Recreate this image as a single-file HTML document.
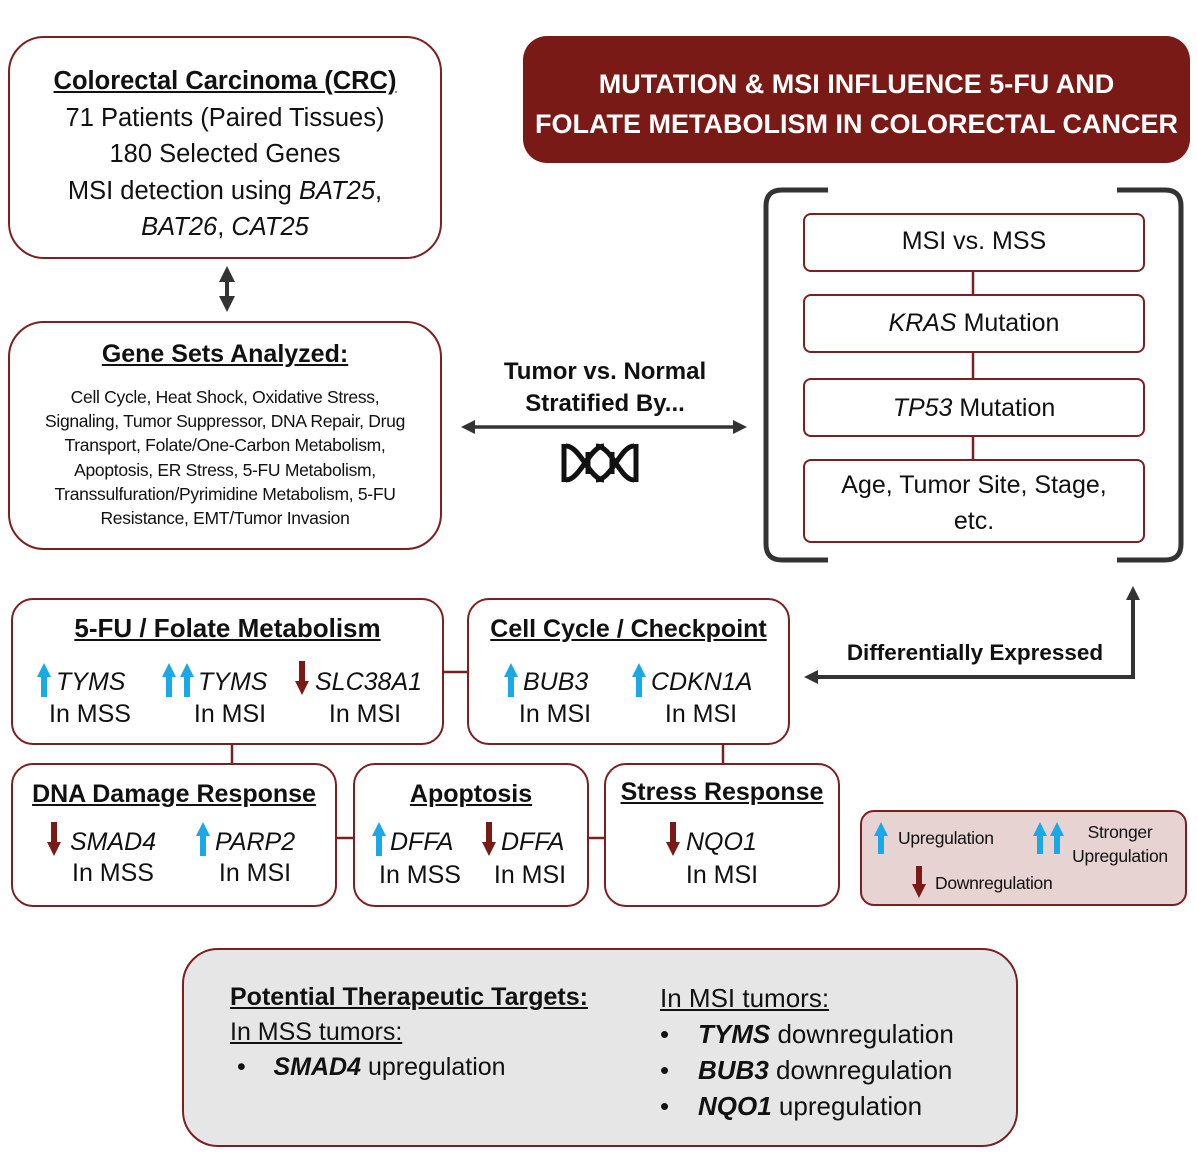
<!DOCTYPE html>
<html><head><meta charset="utf-8"><style>
body{margin:0;width:1197px;height:1165px;background:#fff;position:relative;font-family:"Liberation Sans",sans-serif;color:#111;overflow:hidden}
.b{position:absolute;border:2.5px solid #7b2020;box-sizing:border-box;background:#fff}
.t{position:absolute;white-space:nowrap;text-align:center}
.u{font-weight:bold;text-decoration:underline}
svg{position:absolute;left:0;top:0}
</style></head><body>
<svg width="1197" height="1165">
<defs>
<marker id="ah" markerWidth="4" markerHeight="4" refX="2" refY="2" orient="auto-start-reverse" markerUnits="strokeWidth"><path d="M0,0L4,2L0,4z" fill="#333"/></marker>
</defs>
<g stroke="#7b2020" stroke-width="2.5">
<line x1="973" y1="272" x2="973" y2="294"/><line x1="973" y1="353" x2="973" y2="378"/><line x1="973" y1="437" x2="973" y2="459"/>
<line x1="444" y1="672" x2="467" y2="672"/>
<line x1="232" y1="745" x2="232" y2="763"/><line x1="723" y1="745" x2="723" y2="763"/>
<line x1="337" y1="838" x2="353" y2="838"/><line x1="589" y1="838" x2="604" y2="838"/>
</g>
<g stroke="#333" fill="none">
<line x1="227" y1="274" x2="227" y2="304" marker-start="url(#ah)" marker-end="url(#ah)" stroke-width="4"/>
<line x1="468" y1="427" x2="740" y2="427" marker-start="url(#ah)" marker-end="url(#ah)" stroke-width="3.5"/>
<path d="M828,190 H782 Q766,190 766,206 V544 Q766,560 782,560 H828" stroke-width="5"/>
<path d="M1117,190 H1165 Q1181,190 1181,206 V544 Q1181,560 1165,560 H1117" stroke-width="5"/>
<path d="M816,677 H1133 V598" stroke-width="4"/>
</g>
<path d="M804,677 L818,670 L818,684z" fill="#333"/>
<path d="M1133,586 L1126,600 L1140,600z" fill="#333"/>
<g stroke="#111" stroke-width="5" fill="none">
<path d="M566,446 C580,446 590,480 604,480 M566,480 C580,480 590,446 604,446"/>
<path d="M596,446 C612,446 620,480 634,480 M596,480 C612,480 620,446 634,446"/>
<line x1="564" y1="444" x2="564" y2="482"/><line x1="636" y1="444" x2="636" y2="482"/>
<line x1="588" y1="452" x2="588" y2="474"/><line x1="612" y1="452" x2="612" y2="474"/>
</g>
</svg>

<div class="b" style="left:8px;top:36px;width:434px;height:223px;border-radius:36px"></div>
<div class="t" style="left:8px;width:434px;top:63px;font-size:25.5px;line-height:36.5px">
<span class="u">Colorectal Carcinoma (CRC)</span><br>71 Patients (Paired Tissues)<br>180 Selected Genes<br>MSI detection using <i>BAT25</i>,<br><i>BAT26</i>, <i>CAT25</i></div>

<div style="position:absolute;left:523px;top:36px;width:667px;height:127px;background:#7a1a16;border-radius:24px"></div>
<div class="t" style="left:523px;width:667px;top:64px;color:#fff;font-weight:bold;font-size:27px;line-height:40px">MUTATION &amp; MSI INFLUENCE 5-FU AND<br>FOLATE METABOLISM IN COLORECTAL CANCER</div>

<div class="b" style="left:8px;top:321px;width:434px;height:229px;border-radius:36px"></div>
<div class="t" style="left:8px;width:434px;top:340px;font-size:25px"><span class="u">Gene Sets Analyzed:</span></div>
<div class="t" style="left:8px;width:434px;top:385px;font-size:17.5px;line-height:24.2px;letter-spacing:-0.3px">Cell Cycle, Heat Shock, Oxidative Stress,<br>Signaling, Tumor Suppressor, DNA Repair, Drug<br>Transport, Folate/One-Carbon Metabolism,<br>Apoptosis, ER Stress, 5-FU Metabolism,<br>Transsulfuration/Pyrimidine Metabolism, 5-FU<br>Resistance, EMT/Tumor Invasion</div>

<div class="t" style="left:455px;width:300px;top:356px;font-size:24px;font-weight:bold;line-height:32px">Tumor vs. Normal<br>Stratified By...</div>

<div class="b" style="left:803px;top:213px;width:342px;height:59px;border-radius:8px"></div>
<div class="t" style="left:803px;width:342px;top:227px;font-size:25px">MSI vs. MSS</div>
<div class="b" style="left:803px;top:294px;width:342px;height:59px;border-radius:8px"></div>
<div class="t" style="left:803px;width:342px;top:309px;font-size:25px"><i>KRAS</i> Mutation</div>
<div class="b" style="left:803px;top:378px;width:342px;height:59px;border-radius:8px"></div>
<div class="t" style="left:803px;width:342px;top:394px;font-size:25px"><i>TP53</i> Mutation</div>
<div class="b" style="left:803px;top:459px;width:342px;height:84px;border-radius:8px"></div>
<div class="t" style="left:803px;width:342px;top:467px;font-size:25px;line-height:36px">Age, Tumor Site, Stage,<br>etc.</div>

<div class="t" style="left:815px;width:320px;top:640px;font-size:22.5px;font-weight:bold">Differentially Expressed</div>

<div class="b" style="left:11px;top:598px;width:433px;height:147px;border-radius:22px"></div>
<div class="t" style="left:11px;width:433px;top:613px;font-size:26px"><span class="u">5-FU / Folate Metabolism</span></div>
<div class="b" style="left:467px;top:598px;width:323px;height:147px;border-radius:22px"></div>
<div class="t" style="left:467px;width:323px;top:615px;font-size:25px"><span class="u">Cell Cycle / Checkpoint</span></div>
<div class="b" style="left:11px;top:763px;width:326px;height:144px;border-radius:22px"></div>
<div class="t" style="left:11px;width:326px;top:780px;font-size:25px"><span class="u">DNA Damage Response</span></div>
<div class="b" style="left:353px;top:763px;width:236px;height:144px;border-radius:22px"></div>
<div class="t" style="left:353px;width:236px;top:780px;font-size:25px"><span class="u">Apoptosis</span></div>
<div class="b" style="left:604px;top:763px;width:236px;height:144px;border-radius:22px"></div>
<div class="t" style="left:604px;width:236px;top:778px;font-size:25px"><span class="u">Stress Response</span></div>

<svg width="1197" height="1165">
<defs>
<g id="up"><path d="M0,-14 L-7,0 L-3,0 L-3,20 L3,20 L3,0 L7,0z" fill="#1aa8e6"/></g>
<g id="dn"><path d="M0,20 L-7,6 L-3,6 L-3,-14 L3,-14 L3,6 L7,6z" fill="#7a1a16"/></g>
</defs>
<use href="#up" x="44" y="677"/>
<use href="#up" x="169" y="677"/><use href="#up" x="187" y="677"/>
<use href="#dn" x="302" y="675"/>
<use href="#up" x="511" y="677"/>
<use href="#up" x="639" y="677"/>
<use href="#dn" x="54" y="836"/>
<use href="#up" x="203" y="836"/>
<use href="#up" x="379" y="836"/>
<use href="#dn" x="489" y="836"/>
<use href="#dn" x="673" y="836"/>
</svg>

<div class="t" style="left:56px;top:668px;font-size:25px;text-align:left"><i>TYMS</i></div>
<div class="t" style="left:20px;width:140px;top:700px;font-size:25px">In MSS</div>
<div class="t" style="left:198px;top:668px;font-size:25px;text-align:left"><i>TYMS</i></div>
<div class="t" style="left:160px;width:140px;top:700px;font-size:25px">In MSI</div>
<div class="t" style="left:315px;top:668px;font-size:25px;text-align:left"><i>SLC38A1</i></div>
<div class="t" style="left:295px;width:140px;top:700px;font-size:25px">In MSI</div>
<div class="t" style="left:523px;top:668px;font-size:25px;text-align:left"><i>BUB3</i></div>
<div class="t" style="left:485px;width:140px;top:700px;font-size:25px">In MSI</div>
<div class="t" style="left:651px;top:668px;font-size:25px;text-align:left"><i>CDKN1A</i></div>
<div class="t" style="left:631px;width:140px;top:700px;font-size:25px">In MSI</div>
<div class="t" style="left:70px;top:828px;font-size:25px;text-align:left"><i>SMAD4</i></div>
<div class="t" style="left:43px;width:140px;top:859px;font-size:25px">In MSS</div>
<div class="t" style="left:215px;top:828px;font-size:25px;text-align:left"><i>PARP2</i></div>
<div class="t" style="left:185px;width:140px;top:859px;font-size:25px">In MSI</div>
<div class="t" style="left:390px;top:828px;font-size:25px;text-align:left"><i>DFFA</i></div>
<div class="t" style="left:350px;width:140px;top:861px;font-size:25px">In MSS</div>
<div class="t" style="left:501px;top:828px;font-size:25px;text-align:left"><i>DFFA</i></div>
<div class="t" style="left:460px;width:140px;top:861px;font-size:25px">In MSI</div>
<div class="t" style="left:686px;top:828px;font-size:25px;text-align:left"><i>NQO1</i></div>
<div class="t" style="left:652px;width:140px;top:861px;font-size:25px">In MSI</div>

<div class="b" style="left:860px;top:810px;width:327px;height:96px;border-radius:14px;background:#e8d3d3"></div>
<svg width="1197" height="1165">
<g fill="#1aa8e6"><path d="M881,822 L874,836 L878,836 L878,854 L884,854 L884,836 L888,836z"/>
<path d="M1040,822 L1033,836 L1037,836 L1037,854 L1043,854 L1043,836 L1047,836z"/>
<path d="M1057,822 L1050,836 L1054,836 L1054,854 L1060,854 L1060,836 L1064,836z"/></g>
<path d="M919,898 L912,884 L916,884 L916,866 L922,866 L922,884 L926,884z" fill="#7a1a16"/>
</svg>
<div class="t" style="left:898px;top:828px;font-size:17.5px;letter-spacing:-0.3px">Upregulation</div>
<div class="t" style="left:1064px;width:112px;top:820px;font-size:17.5px;line-height:24px;letter-spacing:-0.3px">Stronger<br>Upregulation</div>
<div class="t" style="left:935px;top:873px;font-size:17.5px;letter-spacing:-0.3px">Downregulation</div>

<div class="b" style="left:182px;top:948px;width:836px;height:199px;border-radius:36px;background:#e6e6e6"></div>
<div class="t" style="left:230px;top:980px;font-size:25px;text-align:left;line-height:35px"><span class="u">Potential Therapeutic Targets:</span><br><span style="text-decoration:underline">In MSS tumors:</span><br>&nbsp;•&nbsp;&nbsp;&nbsp;&nbsp;<b><i>SMAD4</i></b> upregulation</div>
<div class="t" style="left:660px;top:980px;font-size:26px;text-align:left;line-height:36px"><span style="text-decoration:underline">In MSI tumors:</span><br>•&nbsp;&nbsp;&nbsp;&nbsp;<b><i>TYMS</i></b> downregulation<br>•&nbsp;&nbsp;&nbsp;&nbsp;<b><i>BUB3</i></b> downregulation<br>•&nbsp;&nbsp;&nbsp;&nbsp;<b><i>NQO1</i></b> upregulation</div>
</body></html>
